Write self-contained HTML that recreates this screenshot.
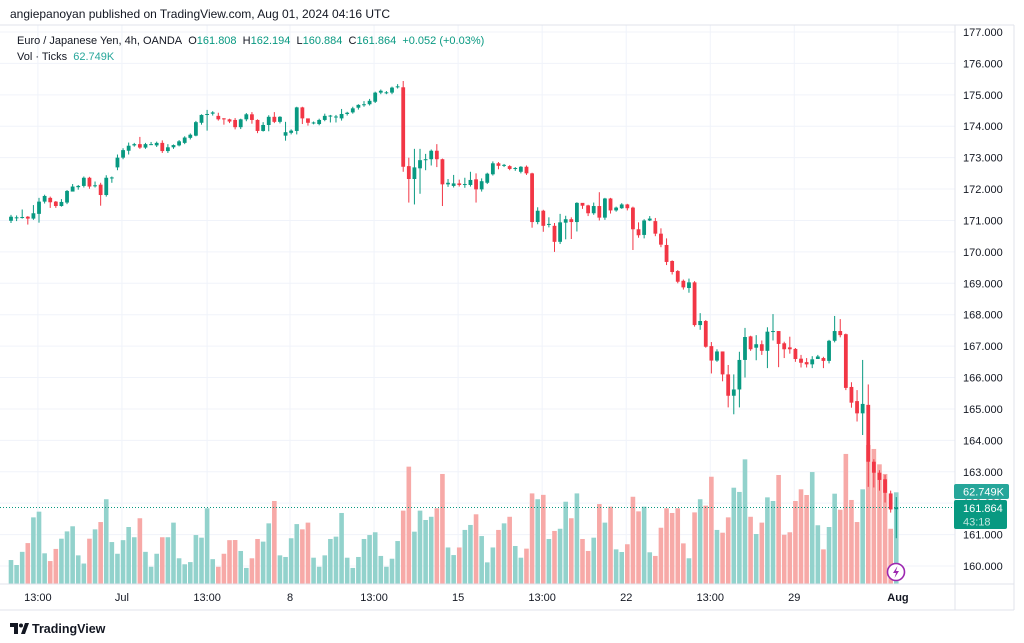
<!DOCTYPE html>
<html><head><meta charset="utf-8"><style>
html,body{margin:0;padding:0;background:#fff;width:1024px;height:643px;overflow:hidden;font-family:"Liberation Sans",sans-serif;}
svg{position:absolute;left:0;top:0}
</style></head><body>
<svg id="c" width="1024" height="643" viewBox="0 0 1024 643"></svg>
<script>
const opens=[170.99,171.10,171.10,171.12,171.06,171.21,171.60,171.72,171.60,171.46,171.57,171.92,172.06,172.10,172.36,172.11,172.14,171.81,172.36,172.69,173.00,173.22,173.39,173.43,173.32,173.43,173.39,173.47,173.21,173.33,173.39,173.47,173.63,173.70,174.11,174.38,174.40,174.33,174.25,174.22,174.20,173.97,174.22,174.38,174.20,173.85,174.04,174.30,174.14,173.70,173.79,173.85,174.60,174.25,174.11,174.07,174.20,174.33,174.30,174.25,174.39,174.44,174.59,174.68,174.70,174.78,175.07,175.07,175.07,175.26,175.24,172.73,172.32,172.66,172.94,172.95,173.22,172.95,172.15,172.10,172.18,172.16,172.13,172.31,171.99,172.20,172.47,172.82,172.77,172.73,172.66,172.55,172.71,172.50,170.95,171.31,170.88,170.83,170.32,170.93,171.04,170.95,171.56,171.48,171.23,171.46,171.09,171.70,171.32,171.39,171.51,171.41,170.72,170.54,171.00,170.98,170.58,170.22,169.71,169.39,169.08,168.85,169.03,167.67,167.80,167.00,166.54,166.83,166.10,165.42,165.62,166.56,167.31,166.95,167.06,166.85,167.46,167.48,167.09,166.96,166.91,166.60,166.49,166.42,166.59,166.62,166.53,167.17,167.48,167.38,165.70,165.25,164.86,165.13,163.32,162.97,162.76,162.31,161.808];
const closes=[171.12,171.10,171.11,171.06,171.23,171.60,171.78,171.58,171.46,171.59,171.94,172.08,172.10,172.36,172.08,172.12,171.81,172.36,172.37,173.00,173.24,173.38,173.43,173.32,173.43,173.43,173.47,173.21,173.33,173.40,173.52,173.64,173.73,174.13,174.36,174.39,174.44,174.22,174.22,174.15,173.97,174.22,174.38,174.20,173.85,174.04,174.30,174.14,174.30,173.81,173.86,174.60,174.25,174.11,174.12,174.20,174.33,174.34,174.31,174.39,174.43,174.57,174.68,174.70,174.81,175.07,175.13,175.08,175.23,175.27,172.71,172.32,172.69,172.92,172.95,173.22,172.95,172.15,172.20,172.18,172.13,172.16,172.29,171.99,172.25,172.49,172.82,172.74,172.77,172.64,172.67,172.71,172.50,170.95,171.31,170.83,170.89,170.32,170.94,171.04,170.95,171.56,171.47,171.23,171.46,171.09,171.70,171.32,171.41,171.51,171.39,170.72,170.53,171.00,171.06,170.58,170.23,169.68,169.36,169.05,168.87,169.03,167.67,167.80,166.98,166.54,166.83,166.10,165.42,165.62,166.56,167.29,166.90,167.06,166.85,167.46,167.48,167.07,166.90,166.90,166.59,166.47,166.42,166.58,166.67,166.53,167.17,167.48,167.35,165.67,165.20,164.86,165.16,163.32,162.97,162.74,162.33,161.80,161.864];
const highs=[171.18,171.16,171.35,171.14,171.49,171.72,171.82,171.76,171.62,171.68,171.97,172.16,172.13,172.40,172.39,172.24,172.20,172.44,172.40,173.10,173.30,173.48,173.47,173.66,173.47,173.50,173.51,173.55,173.43,173.42,173.56,173.68,173.77,174.17,174.38,174.52,174.48,174.43,174.26,174.24,174.26,174.24,174.42,174.45,174.22,174.13,174.35,174.45,174.32,174.14,173.90,174.62,174.62,174.20,174.15,174.24,174.40,174.36,174.36,174.55,174.46,174.62,174.70,174.80,174.87,175.10,175.17,175.12,175.26,175.34,175.44,173.00,173.28,173.28,173.12,173.26,173.43,172.97,172.32,172.45,172.30,172.36,172.55,172.50,172.34,172.52,172.88,172.86,172.80,172.76,172.70,172.73,172.75,172.52,171.42,171.34,171.10,170.92,171.21,171.15,171.10,171.58,171.52,171.50,171.57,171.90,171.72,171.72,171.44,171.55,171.53,171.44,170.94,171.04,171.14,171.08,170.75,170.43,169.73,169.42,169.12,169.15,169.07,168.05,167.83,167.13,166.90,166.83,166.40,166.10,166.82,167.58,167.33,167.35,167.18,167.60,168.02,167.48,167.14,167.30,166.94,166.72,166.62,166.68,166.72,166.66,167.20,167.96,167.86,167.40,165.85,165.60,166.56,165.78,163.40,163.05,162.90,162.40,162.194];
const lows=[170.92,170.98,171.06,170.87,171.02,170.93,171.54,171.40,171.40,171.44,171.52,171.95,171.98,172.05,172.01,172.05,171.47,171.76,172.20,172.60,172.95,173.10,173.35,173.28,173.28,173.40,173.34,173.15,173.15,173.28,173.36,173.43,173.58,173.68,174.05,173.86,174.34,174.18,174.05,174.10,173.90,173.91,174.16,174.08,173.78,173.83,173.84,174.10,174.09,173.54,173.74,173.74,174.07,174.02,174.06,174.03,174.16,174.12,174.12,174.18,174.34,174.40,174.53,174.62,174.66,174.74,175.02,175.02,175.02,175.20,172.55,171.57,171.51,171.85,172.60,172.75,172.70,171.46,172.07,172.05,172.08,172.04,172.08,171.57,171.92,172.16,172.43,172.63,172.70,172.60,172.58,172.50,172.45,170.77,170.88,170.64,170.78,170.00,170.25,170.40,170.41,170.65,171.37,171.14,171.18,171.00,171.02,171.22,171.28,171.37,171.32,170.06,170.45,170.43,170.98,170.50,170.15,169.58,169.28,169.00,168.80,168.70,167.62,167.52,166.95,166.13,166.50,165.88,165.05,164.83,165.05,166.00,166.85,166.55,166.72,166.30,167.18,166.33,166.62,166.76,166.50,166.32,166.32,166.30,166.60,166.30,166.45,167.12,167.28,165.60,165.04,164.60,164.17,162.52,162.50,162.40,162.02,161.70,160.884];
const volumes=[16.4,13,22,28,45.6,49.5,21,15.7,24,31,36,39.5,19.6,14,31,37.4,42.4,58,28.7,20.7,30,39,32,45,22,11.8,20.7,32,32,42,17.6,13.5,15,33.5,31.7,51.8,17,11.8,20.7,30,30.1,22.6,11,17.6,30.8,29,41.5,56.8,19.6,18.5,31.3,41,37.4,42,18,11.8,19.6,30.8,32.4,48.6,18,11,18.5,30.8,33.5,35.4,19.2,11.8,17.3,29.4,50.2,80.3,35.8,50.2,43.8,46,51.8,75.3,25,19.8,25,37,40.4,47.7,32.8,14.8,25,37,41.5,46,26,18,24.2,62,58,61,30.8,36.3,37.8,56.3,45,62,30.8,22.6,31.7,54.7,42,52.9,23.7,21.9,27.2,59.7,49.7,52.9,21.7,19.2,38.5,51.8,48.6,51.8,27.8,17.6,49,58,53.6,73.4,37,35.1,45.6,65.9,63,85.3,46,34.2,42,59.3,56.8,74.6,33.7,35.4,56.8,64.8,60.9,76.6,40.2,23.7,39,61.8,50.8,89,57.5,42.4,64.8,95.1,92.4,81.9,75.3,37.8,62.749];
const priceTicks=[177,176,175,174,173,172,171,170,169,168,167,166,165,164,163,162,161,160];
const timeLabels=["13:00","Jul","13:00","8","13:00","15","13:00","22","13:00","29","Aug"];
const timeLabelIdx=[4.8,19.8,35,49.8,64.8,79.8,94.8,109.8,124.8,139.8,158.3];

const NS="http://www.w3.org/2000/svg";
const svg=document.getElementById('c');
function el(t,a,p){const e=document.createElementNS(NS,t);for(const k in a)e.setAttribute(k,a[k]);(p||svg).appendChild(e);return e;}
const py=p=>32+(177-p)*31.412;
const bx=i=>11+i*5.603;
const vy=v=>584-v/62.749*91.7;
const UP="#089981",DN="#f23645",VUP="#92d2cc",VDN="#f7a9a7";

const grid=el('g',{});


priceTicks.forEach(t=>{el('line',{x1:0,x2:955,y1:py(t),y2:py(t),stroke:'#f0f3fa','stroke-width':1},grid);});
timeLabelIdx.forEach(i=>{el('line',{x1:bx(i),x2:bx(i),y1:25,y2:584,stroke:'#f0f3fa','stroke-width':1},grid);});

const vg=el('g',{});


volumes.forEach((v,i)=>{
  const up=closes[i]>=opens[i];
  const r=el('rect',{x:bx(i)-2.3,y:vy(v),width:4.6,height:584-vy(v),fill:up?VUP:VDN},vg);
  
  
});

el('line',{x1:0,x2:955,y1:py(161.864),y2:py(161.864),stroke:'#089981','stroke-width':1,'stroke-dasharray':'1 2'});

const cg=el('g',{});


opens.forEach((o,i)=>{
  const c=closes[i],col=c>=o?UP:DN,x=bx(i);
  const g=el('g',{},cg);
  
  
  el('line',{x1:x,x2:x,y1:py(highs[i]),y2:py(lows[i]),stroke:col,'stroke-width':1},g);
  const t=py(Math.max(o,c)),b=py(Math.min(o,c));
  el('rect',{x:x-1.9,y:t,width:3.8,height:Math.max(1,b-t),fill:col},g);
});

// axes frame
el('line',{x1:0,x2:1014,y1:25,y2:25,stroke:'#e0e3eb'});
el('line',{x1:955,x2:955,y1:25,y2:610,stroke:'#e0e3eb'});
el('line',{x1:1014,x2:1014,y1:25,y2:610,stroke:'#e0e3eb'});
el('line',{x1:0,x2:1014,y1:584,y2:584,stroke:'#e0e3eb'});
el('line',{x1:0,x2:1014,y1:610,y2:610,stroke:'#e0e3eb'});

const ya=el('g',{});


priceTicks.forEach(t=>{
  const tx=el('text',{x:963,y:py(t)+4,'font-size':11,fill:'#131722'},ya);
  tx.textContent=t.toFixed(3);
  
  
});
const xa=el('g',{});


timeLabels.forEach((l,k)=>{
  const tx=el('text',{x:bx(timeLabelIdx[k]),y:601,'font-size':11,fill:'#131722','text-anchor':'middle','font-weight':l==='Aug'?'bold':'normal'},xa);
  tx.textContent=l;
  
  
});

// labels
const vl=el('g',{});


el('rect',{x:954,y:484,width:55,height:15,rx:2,fill:'#26a69a'},vl);
el('text',{x:963,y:495.5,'font-size':11,fill:'#fff'},vl).textContent="62.749K";
const pl=el('g',{});


el('rect',{x:954,y:500,width:53,height:29,rx:2,fill:'#089981'},pl);
el('text',{x:963,y:512,'font-size':11,fill:'#fff'},pl).textContent="161.864";
el('text',{x:963,y:525.5,'font-size':11,fill:'#bfe6df'},pl).textContent="43:18";

const ic=el('g',{});


el('circle',{cx:896,cy:572,r:8.5,fill:'#fff',stroke:'#9c27b0','stroke-width':1.6},ic);
el('path',{d:'M897.5 566 L893 573 L896 573 L894.5 578 L899 571 L896 571 Z',fill:'#9c27b0'},ic);

function txt(x,y,s,size,fill,name,weight){const t=el('text',{x:x,y:y,'font-size':size,fill:fill,'font-weight':weight||'normal'});t.textContent=s;return t;}
txt(10,18,"angiepanoyan published on TradingView.com, Aug 01, 2024 04:16 UTC",12,'#131722','publisher-caption');
const lg=el('text',{x:17,y:44,'font-size':11,fill:'#131722'});


lg.innerHTML='Euro / Japanese Yen, 4h, OANDA&#160;&#160;O<tspan fill="#089981">161.808</tspan>&#160;&#160;H<tspan fill="#089981">162.194</tspan>&#160;&#160;L<tspan fill="#089981">160.884</tspan>&#160;&#160;C<tspan fill="#089981">161.864</tspan>&#160;&#160;<tspan fill="#089981">+0.052 (+0.03%)</tspan>';
const vlg=el('text',{x:17,y:60,'font-size':11,fill:'#131722'});


vlg.innerHTML='Vol · Ticks&#160;&#160;<tspan fill="#26a69a">62.749K</tspan>';

const logo=el('g',{});


el('path',{d:'M10 623 H18 V634 H14 V627 H10 Z M21 634 L25 623 H29 L25 634 Z',fill:'#131722'},logo);
el('circle',{cx:21,cy:625.5,r:2,fill:'#131722'},logo);
el('text',{x:32,y:633,'font-size':12.5,fill:'#131722','font-weight':'bold'},logo).textContent="TradingView";
</script>
</body></html>
